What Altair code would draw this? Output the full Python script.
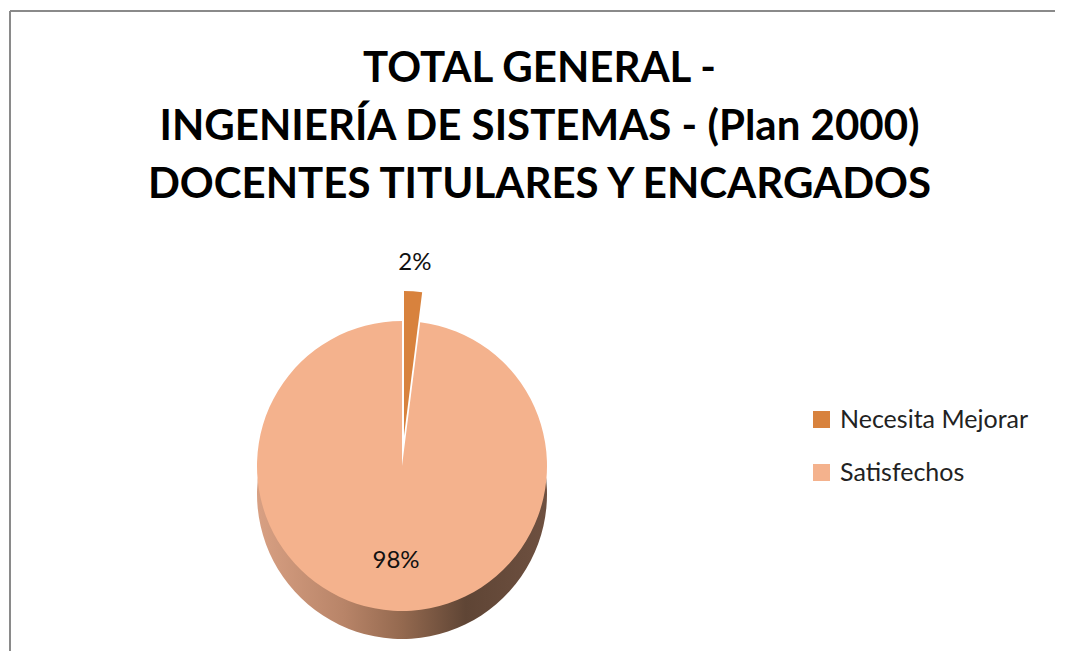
import altair as alt
import pandas as pd

# ---- data ----
categories = ["Necesita Mejorar", "Satisfechos"]
values = [2, 98]
labels = ["2%", "98%"]
colors = ["#D8823D", "#F4B28D"]

df = pd.DataFrame({"category": categories, "value": values, "label": labels})
frame_df = pd.DataFrame({"k": [0]})

# ---- layout / style ----
W, H = 1045, 640
R = 145
CX, CY = 392, 455
DEPTH = 28
EXPLODE = 30
FONT = "Lato"
BORDER = "#8a8a8a"

is_small = alt.datum.category == "Necesita Mejorar"
is_big = alt.datum.category == "Satisfechos"

base = alt.Chart(df).encode(
    theta=alt.Theta("value:Q", stack=True),
    order=alt.Order("category:N", sort="ascending"),
)

color_enc = alt.Color(
    "category:N",
    scale=alt.Scale(domain=categories, range=colors),
    legend=alt.Legend(
        title=None,
        orient="none",
        legendX=799,
        legendY=396,
        symbolType="square",
        symbolSize=289,
        symbolStrokeWidth=0,
        symbolOpacity=1,
        labelFontSize=25,
        labelFont=FONT,
        labelColor="#222222",
        labelLimit=0,
        rowPadding=27,
        labelOffset=6,
        padding=0,
    ),
)

side_gradient = alt.LinearGradient(
    gradient="linear",
    stops=[
        alt.GradientStop(color="#D8A083", offset=0),
        alt.GradientStop(color="#B88468", offset=0.3),
        alt.GradientStop(color="#94694F", offset=0.5),
        alt.GradientStop(color="#5F4535", offset=0.72),
        alt.GradientStop(color="#6E5040", offset=1),
    ],
    x1=0, x2=1, y1=0, y2=0,
)

side = base.mark_arc(radius=R, fill=side_gradient).encode(
    x=alt.value(CX),
    y=alt.value(CY + DEPTH),
    opacity=alt.condition(is_big, alt.value(1), alt.value(0)),
)

top = base.mark_arc(radius=R).encode(
    x=alt.value(CX),
    y=alt.value(CY),
    color=color_enc,
    opacity=alt.condition(is_big, alt.value(1), alt.value(0)),
)

exploded = base.mark_arc(radius=R).encode(
    x=alt.value(CX + 2),
    y=alt.value(CY - EXPLODE),
    color=color_enc,
    opacity=alt.condition(is_small, alt.value(1), alt.value(0)),
)

label_small = base.mark_text(radius=R + 28, fontSize=24, font=FONT, color="#111111").encode(
    x=alt.value(CX + 2),
    y=alt.value(CY - EXPLODE),
    text="label:N",
    opacity=alt.condition(is_small, alt.value(1), alt.value(0)),
)

label_big = base.mark_text(radius=95, fontSize=24, font=FONT, color="#111111").encode(
    x=alt.value(CX),
    y=alt.value(CY),
    text="label:N",
    opacity=alt.condition(is_big, alt.value(1), alt.value(0)),
)

border_top = alt.Chart(frame_df).mark_rule(color=BORDER, strokeWidth=2).encode(
    x=alt.value(0), x2=alt.value(W), y=alt.value(0)
)
border_left = alt.Chart(frame_df).mark_rule(color=BORDER, strokeWidth=2).encode(
    x=alt.value(0), y=alt.value(0), y2=alt.value(H)
)

chart = (
    alt.layer(border_top, border_left, side, top, exploded, label_small, label_big)
    .properties(
        width=W,
        height=H,
        background="white",
        padding={"left": 1, "top": 2, "right": 0, "bottom": 0},
        title=alt.Title(
            ["TOTAL GENERAL -", "INGENIERÍA DE SISTEMAS - (Plan 2000)", "DOCENTES TITULARES Y ENCARGADOS"],
            fontSize=42,
            font=FONT,
            fontWeight="bold",
            color="#000000",
            lineHeight=58,
            anchor="middle",
            offset=-197,
            dx=7,
        ),
    )
    .configure_view(stroke="transparent", strokeWidth=0)
)

chart.save("out.html", embed_options={"renderer": "svg", "actions": False})
